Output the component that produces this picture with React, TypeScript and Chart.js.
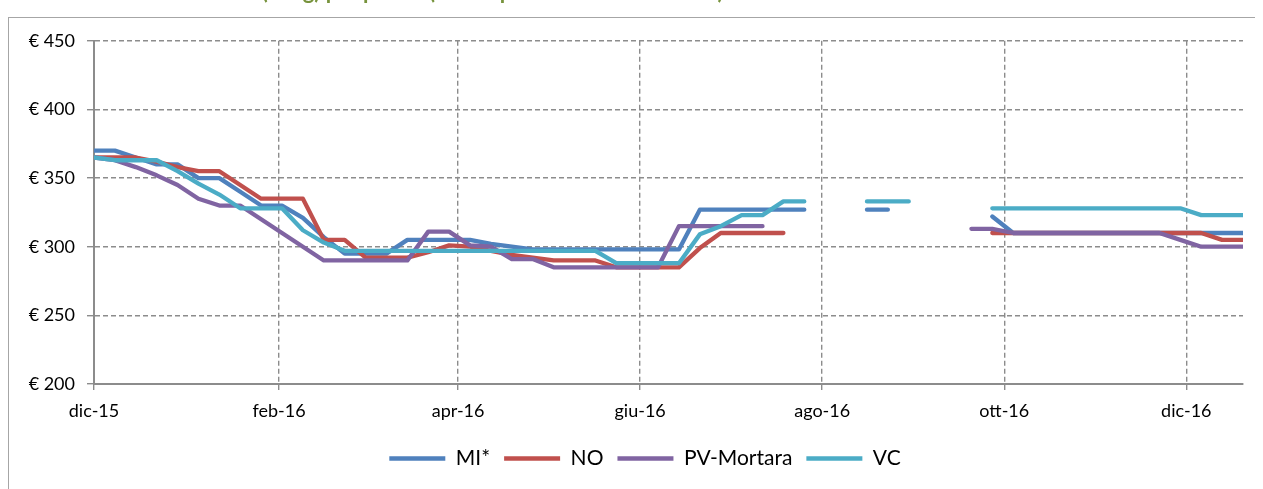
import React, { useEffect, useRef } from 'react';
import { Chart, registerables } from 'chart.js';

Chart.register(...registerables);

// Weekly quotation dates
const weekDates = [
  '2015-12-01', '2015-12-08', '2015-12-15', '2015-12-22', '2015-12-29',
  '2016-01-05', '2016-01-12', '2016-01-19', '2016-01-26', '2016-02-02',
  '2016-02-09', '2016-02-16', '2016-02-23', '2016-03-01', '2016-03-08',
  '2016-03-15', '2016-03-22', '2016-03-29', '2016-04-05', '2016-04-12',
  '2016-04-19', '2016-04-26', '2016-05-03', '2016-05-10', '2016-05-17',
  '2016-05-24', '2016-05-31', '2016-06-07', '2016-06-14', '2016-06-21',
  '2016-06-28', '2016-07-05', '2016-07-12', '2016-07-19', '2016-07-26',
  '2016-08-02', '2016-08-09', '2016-08-16', '2016-08-23', '2016-08-30',
  '2016-09-06', '2016-09-13', '2016-09-20', '2016-09-27', '2016-10-04',
  '2016-10-11', '2016-10-18', '2016-10-25', '2016-11-01', '2016-11-08',
  '2016-11-15', '2016-11-22', '2016-11-29', '2016-12-06', '2016-12-13',
  '2016-12-20',
];

const monthTickDates = ['2015-12-01', '2016-02-01', '2016-04-01', '2016-06-01', '2016-08-01', '2016-10-01', '2016-12-01'];
const monthTickLabels = ['dic-15', 'feb-16', 'apr-16', 'giu-16', 'ago-16', 'ott-16', 'dic-16'];

const seriesNames = ['MI*', 'NO', 'PV-Mortara', 'VC'];
const seriesColors = ['#4F81BD', '#C0504D', '#8064A2', '#4BACC6'];

const miValues = [
  370, 370, 365, 360, 360, 350, 350, 340, 330, 330,
  321, 307, 295, 295, 295, 305, 305, 305, 305, 302,
  300, 298, 298, 298, 298, 298, 298, 298, 298, 327,
  327, 327, 327, 327, 327, null, null, 327, 327, null,
  null, null, null, 322, 310, 310, 310, 310, 310, 310,
  310, 310, 310, 310, 310, 310,
];
const noValues = [
  365, 365, 365, 362, 358, 355, 355, 345, 335, 335,
  335, 305, 305, 292, 292, 292, 296, 301, 300, 297,
  294, 292, 290, 290, 290, 285, 285, 285, 285, 299,
  310, 310, 310, 310, null, null, null, null, null, null,
  null, null, null, 310, 310, 310, 310, 310, 310, 310,
  310, 310, 310, 310, 305, 305,
];
const pvValues = [
  365, 363, 358, 352, 345, 335, 330, 330, 320, 310,
  300, 290, 290, 290, 290, 290, 311, 311, 301, 300,
  291, 291, 285, 285, 285, 285, 285, 285, 315, 315,
  315, 315, 315, null, null, null, null, null, null, null,
  null, null, 313, 313, 310, 310, 310, 310, 310, 310,
  310, 310, 305, 300, 300, 300,
];
const vcValues = [
  365, 363, 363, 363, 355, 346, 338, 328, 328, 328,
  312, 303, 297, 297, 297, 297, 297, 297, 297, 297,
  297, 297, 297, 297, 297, 288, 288, 288, 288, 309,
  315, 323, 323, 333, 333, null, null, 333, 333, 333,
  null, null, null, 328, 328, 328, 328, 328, 328, 328,
  328, 328, 328, 323, 323, 323,
];

const yMin = 200;
const yMax = 450;
const yStep = 50;

const ORIGIN = Date.UTC(2015, 11, 1);
const toDay = (s: string) => {
  const [y, m, d] = s.split('-').map(Number);
  return Math.round((Date.UTC(y, m - 1, d) - ORIGIN) / 86400000);
};

const shiftLegend = {
  id: 'shiftLegend',
  afterLayout(chart: any) {
    const l = chart.legend;
    if (l) {
      l.left += 19;
      l.right += 19;
    }
  },
};

export default function App() {
  const canvasRef = useRef<HTMLCanvasElement | null>(null);

  useEffect(() => {
    const canvas = canvasRef.current;
    if (!canvas) return;
    const xs = weekDates.map(toDay);
    const allSeries = [miValues, noValues, pvValues, vcValues];
    const tickValues = monthTickDates.map(toDay);
    const font = { family: 'Lato', size: 18 };

    const chart = new Chart(canvas, {
      type: 'line',
      data: {
        datasets: allSeries.map((vals, i) => ({
          label: seriesNames[i],
          data: vals.map((v, k) => ({ x: xs[k], y: v })),
          borderColor: seriesColors[i],
          backgroundColor: seriesColors[i],
          borderWidth: 4.3,
          borderCapStyle: 'round' as const,
          borderJoinStyle: 'round' as const,
          pointRadius: 0,
          pointHoverRadius: 0,
          tension: 0,
          spanGaps: false,
          order: 4 - i,
        })),
      },
      plugins: [shiftLegend],
      options: {
        animation: false,
        responsive: false,
        maintainAspectRatio: false,
        layout: { padding: { top: 22, right: 13, left: 0, bottom: 0 } },
        plugins: {
          tooltip: { enabled: false },
          legend: {
            position: 'bottom',
            labels: {
              usePointStyle: true,
              pointStyle: 'line',
              pointStyleWidth: 56,
              boxHeight: 21,
              padding: 14,
              color: '#000',
              font: { family: 'Lato', size: 21 },
              sort: (a: any, b: any) => a.datasetIndex - b.datasetIndex,
            },
          },
        },
        scales: {
          x: {
            type: 'linear',
            min: 0,
            max: xs[xs.length - 1],
            afterBuildTicks: (scale: any) => {
              scale.ticks = tickValues.map((v) => ({ value: v }));
            },
            afterFit: (scale: any) => {
              scale.height = 50;
            },
            ticks: {
              autoSkip: false,
              maxRotation: 0,
              padding: 10,
              color: '#000',
              font,
              callback: (_v: any, idx: number) => monthTickLabels[idx],
            },
            grid: {
              color: '#8c8c8c',
              lineWidth: 1.4,
              tickLength: 6,
              tickColor: '#8c8c8c',
            },
            border: { display: true, color: '#8c8c8c', width: 2, dash: [5, 3] },
          },
          y: {
            min: yMin,
            max: yMax,
            afterFit: (scale: any) => {
              scale.width = 85;
            },
            ticks: {
              stepSize: yStep,
              padding: 12,
              color: '#000',
              font,
              callback: (v: any) => '€ ' + v,
            },
            grid: {
              color: '#8c8c8c',
              lineWidth: 1.4,
              tickLength: 7,
              tickColor: '#8c8c8c',
            },
            border: { display: true, color: '#8c8c8c', width: 2, dash: [5, 3] },
          },
        },
      },
    });
    return () => chart.destroy();
  }, []);

  return (
    <div style={{ position: 'relative', height: 481 }}>
      <div
        style={{
          position: 'fixed',
          left: 0,
          top: 0,
          height: 8,
          width: 1263,
          overflow: 'hidden',
        }}
      >
        <div
          style={{
            position: 'absolute',
            left: 132,
            top: -21,
            fontFamily: 'Lato',
            fontWeight: 'bold',
            fontSize: 22,
            color: '#77933C',
            whiteSpace: 'nowrap',
            lineHeight: '24px',
          }}
        >
          Prezzi risone (€/kg) per piazza (media ponderata settimanale)
        </div>
      </div>
      <div
        style={{
          position: 'absolute',
          left: 0,
          top: 9,
          width: 1249,
          height: 480,
          border: '1px solid #a6a6a6',
          boxSizing: 'border-box',
        }}
      >
        <canvas
          ref={canvasRef}
          width={1247}
          height={461}
          style={{ position: 'absolute', left: 0, top: 0, width: 1247, height: 461 }}
        />
      </div>
    </div>
  );
}
